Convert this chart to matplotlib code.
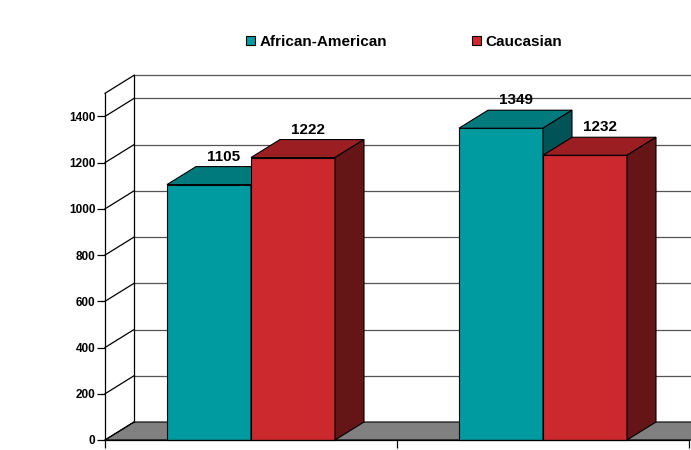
import numpy as np
import matplotlib
matplotlib.use("Agg")
import matplotlib.pyplot as plt
from matplotlib.patches import Polygon, Patch

# data
groups = ["", ""]
series = ["African-American", "Caucasian"]
african_american = [1105, 1349]
caucasian = [1222, 1232]
y_ticks = [0, 200, 400, 600, 800, 1000, 1200, 1400]
y_max = 1500

plt.rcParams["font.family"] = ["Liberation Sans", "DejaVu Sans"]
plt.rcParams["font.weight"] = "bold"

# colours: front, top, side
colors = {
    "African-American": ("#009aa1", "#007a7c", "#005356"),
    "Caucasian": ("#cc292e", "#9b1f22", "#661517"),
}

fig = plt.figure(figsize=(6.91, 4.5), dpi=100)
ax = fig.add_axes([105 / 691, 10 / 450, 584 / 691, 346.7 / 450])
x0, x1 = -0.5, len(groups) - 0.5
ax.set_xlim(x0, x1)
ax.set_ylim(0, y_max)

# depth of the 3d effect in data units
DX = 29 / 292
DY = 18 / (346.7 / y_max)
bar_w = 84 / 292
x_right = x1 + 0.3

# floor
floor = Polygon([(x0, 0), (x_right, 0), (x_right + DX, DY), (x0 + DX, DY)],
                closed=True, facecolor="#808080", edgecolor="black", lw=0.8,
                clip_on=False, zorder=1)
ax.add_patch(floor)

# back wall grid + side wall diagonals
for v in y_ticks[1:] + [y_max]:
    ax.plot([x0 + DX, x_right + DX], [v + DY, v + DY], color="#555555",
            lw=0.9, clip_on=False, zorder=1)
for v in y_ticks + [y_max]:
    ax.plot([x0, x0 + DX], [v, v + DY], color="black", lw=0.9,
            clip_on=False, zorder=1)
ax.plot([x0 + DX, x0 + DX], [DY, y_max + DY], color="black", lw=0.9,
        clip_on=False, zorder=1)


def bar3d(xl, h, cols):
    front, top, side = cols
    xr = xl + bar_w
    ax.add_patch(Polygon([(xl, 0), (xr, 0), (xr, h), (xl, h)], closed=True,
                         facecolor=front, edgecolor="black", lw=0.8,
                         clip_on=False, zorder=3))
    ax.add_patch(Polygon([(xl, h), (xr, h), (xr + DX, h + DY), (xl + DX, h + DY)],
                         closed=True, facecolor=top, edgecolor="black", lw=0.8,
                         clip_on=False, zorder=3))
    ax.add_patch(Polygon([(xr, 0), (xr + DX, DY), (xr + DX, h + DY), (xr, h)],
                         closed=True, facecolor=side, edgecolor="black", lw=0.8,
                         clip_on=False, zorder=3))


for i in range(len(groups)):
    for j, (name, vals) in enumerate(zip(series, [african_american, caucasian])):
        xl = i - bar_w + j * bar_w
        bar3d(xl, vals[i], colors[name])
        ax.annotate(f"{vals[i]}", (xl + bar_w / 2 + DX / 2, vals[i] + DY),
                    xytext=(0, 2), textcoords="offset points",
                    ha="center", va="bottom", fontsize=11,
                    fontweight="bold", zorder=5)

# axes
for s in ["top", "right"]:
    ax.spines[s].set_visible(False)
ax.spines["left"].set_bounds(0, y_max)
ax.spines["left"].set_linewidth(0.9)
ax.spines["bottom"].set_linewidth(0.9)
ax.spines["bottom"].set_zorder(4)
ax.set_yticks(y_ticks)
ax.set_yticklabels([str(t) for t in y_ticks], fontsize=8.5, fontweight="bold")
ax.set_xticks(np.arange(x0, x1 + 0.01, 1.0))
ax.set_xticklabels([""] * 3)
ax.tick_params(axis="both", direction="out", length=6, width=0.9, pad=1)
ax.patch.set_visible(False)

handles = [Patch(facecolor=colors[n][0], edgecolor="black", lw=0.8) for n in series]
fig.legend(handles, series, loc="center", bbox_to_anchor=(0.585, 0.907), ncol=2,
           frameon=False, handlelength=0.6, handleheight=0.6,
           handletextpad=0.3, columnspacing=5.5, prop={"weight": "bold", "size": 11})

fig.savefig("out.png", dpi=100)
